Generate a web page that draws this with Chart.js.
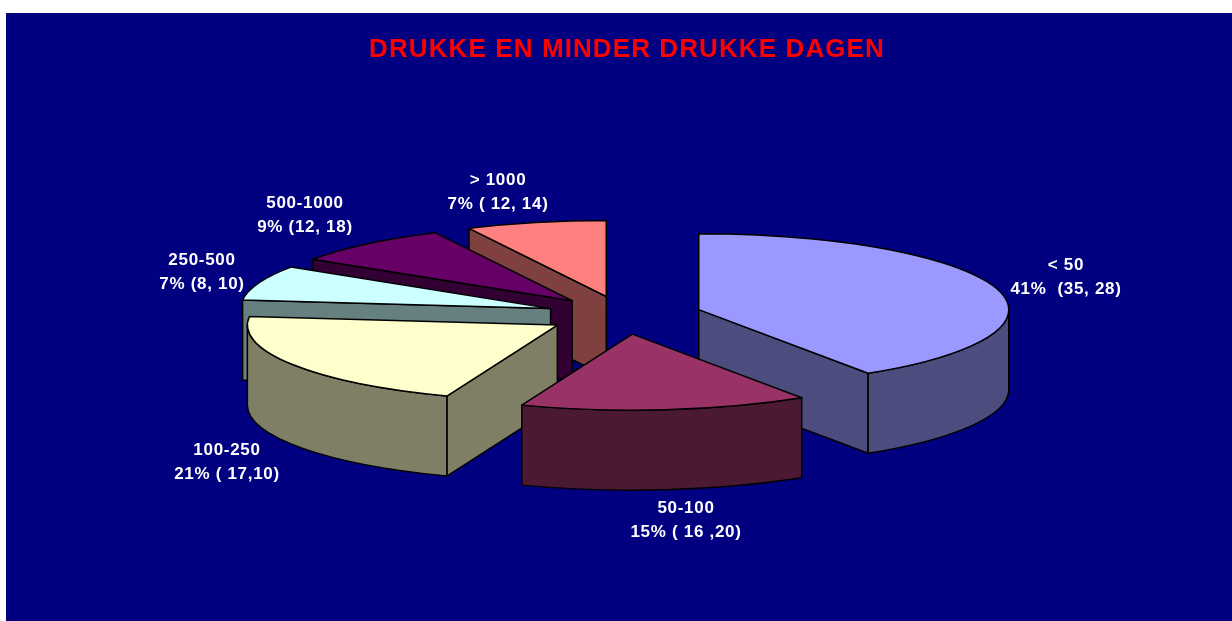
<!DOCTYPE html>
<html>
<head>
    <title>Drukke en minder drukke dagen</title>
    <script src="https://cdn.jsdelivr.net/npm/chart.js"></script>
    <style type="text/css">
        html, body { margin: 0; padding: 0; background: #ffffff; overflow: hidden; }
        #pie-chart { position: absolute; left: 6px; top: 13px; background: #000080; }
    </style>
</head>
<body>
    <canvas id="pie-chart" width="1226" height="608"></canvas>

    <script type="text/javascript">
        const categories = ['< 50', '50-100', '100-250', '250-500', '500-1000', '> 1000'];
        const shares = [40.8, 15, 21, 7.4, 8.5, 7.3];
        const details = ['41%  (35, 28)', '15% ( 16 ,20)', '21% ( 17,10)', '7% (8, 10)', '9% (12, 18)', '7% ( 12, 14)'];
        const topColors = ['#9999ff', '#993366', '#ffffcc', '#ccffff', '#660066', '#ff8080'];
        const sideColors = ['#4c4c7f', '#4c1933', '#7f7f66', '#668080', '#330033', '#804040'];

        // label centres on the canvas, one per category
        const labelX = [1060, 680, 221, 196, 299, 492];
        const labelY = [252, 495, 437, 247, 190, 167];

        const TILT = 76 / 310;
        const DEPTH = 80;
        const PIE_SHIFT_X = -3; // the title sits slightly right of the pie centre
        const OUTLINE = '#000000';

        // Flattens the pie's arcs into a tilted, extruded 3D pie
        const pie3d = {
            id: 'pie3d',
            beforeDraw(chart) {
                chart.ctx.letterSpacing = '1.1px'; // for the title
            },
            beforeDatasetDraw(chart, args) {
                const ctx = chart.ctx;
                const arcs = chart.getDatasetMeta(args.index).data.map((arc, i) => {
                    const p = arc.getProps(['x', 'y', 'startAngle', 'endAngle', 'outerRadius']);
                    const mid = (p.startAngle + p.endAngle) / 2;
                    const off = arc.options.offset;
                    return {
                        i, mid,
                        start: p.startAngle,
                        end: p.endAngle,
                        r: p.outerRadius,
                        x: p.x + PIE_SHIFT_X + Math.cos(mid) * off,
                        y: p.y + Math.sin(mid) * off * TILT,
                        top: arc.options.backgroundColor
                    };
                });

                // back slices first
                arcs.sort((a, b) => Math.sin(a.mid) - Math.sin(b.mid));

                ctx.save();
                ctx.lineWidth = 1.5;
                ctx.lineJoin = 'round';
                ctx.strokeStyle = OUTLINE;
                arcs.forEach(a => {
                    const rim = t => [a.x + Math.cos(t) * a.r, a.y + Math.sin(t) * a.r * TILT];
                    const radialWall = t => {
                        const [px, py] = rim(t);
                        ctx.beginPath();
                        ctx.moveTo(a.x, a.y);
                        ctx.lineTo(px, py);
                        ctx.lineTo(px, py + DEPTH);
                        ctx.lineTo(a.x, a.y + DEPTH);
                        ctx.closePath();
                        ctx.fill();
                        ctx.stroke();
                    };

                    // radial walls, only the ones facing the viewer
                    ctx.fillStyle = sideColors[a.i];
                    if (Math.cos(a.start) < -1e-6) radialWall(a.start);
                    if (Math.cos(a.end) > 1e-6) radialWall(a.end);

                    // outer wall, only where it faces the viewer
                    const from = Math.max(a.start, 0);
                    const to = Math.min(a.end, Math.PI);
                    if (to > from) {
                        ctx.beginPath();
                        ctx.ellipse(a.x, a.y, a.r, a.r * TILT, 0, from, to);
                        ctx.ellipse(a.x, a.y + DEPTH, a.r, a.r * TILT, 0, to, from, true);
                        ctx.closePath();
                        ctx.fill();
                        ctx.stroke();
                    }

                    // top face
                    ctx.fillStyle = a.top;
                    ctx.beginPath();
                    ctx.moveTo(a.x, a.y);
                    ctx.ellipse(a.x, a.y, a.r, a.r * TILT, 0, a.start, a.end);
                    ctx.closePath();
                    ctx.fill();
                    ctx.stroke();
                });
                ctx.restore();
                return false;
            },
            afterDatasetsDraw(chart) {
                const ctx = chart.ctx;
                ctx.save();
                ctx.fillStyle = '#ffffff';
                ctx.font = 'bold 17px "Liberation Sans", Arial, sans-serif';
                ctx.letterSpacing = '0.7px';
                ctx.textAlign = 'center';
                ctx.textBaseline = 'middle';
                categories.forEach((name, i) => {
                    ctx.fillText(name, labelX[i], labelY[i]);
                    ctx.fillText(details[i], labelX[i], labelY[i] + 24);
                });
                ctx.restore();
            }
        };

        new Chart(document.getElementById('pie-chart'), {
            type: 'pie',
            plugins: [pie3d],
            data: {
                labels: categories,
                datasets: [{
                    data: shares,
                    backgroundColor: topColors,
                    offset: 78,
                    borderWidth: 0
                }]
            },
            options: {
                responsive: false,
                animation: false,
                events: [],
                radius: 310,
                layout: { padding: { left: 16, right: 0, top: 0, bottom: 56 } },
                plugins: {
                    legend: { display: false },
                    tooltip: { enabled: false },
                    title: {
                        display: true,
                        text: 'DRUKKE EN MINDER DRUKKE DAGEN',
                        color: '#ff0000',
                        font: { family: '"Liberation Sans", Arial, sans-serif', size: 26, weight: 'bold' },
                        padding: { top: 21, bottom: 0 }
                    }
                }
            }
        });
    </script>
</body>
</html>
